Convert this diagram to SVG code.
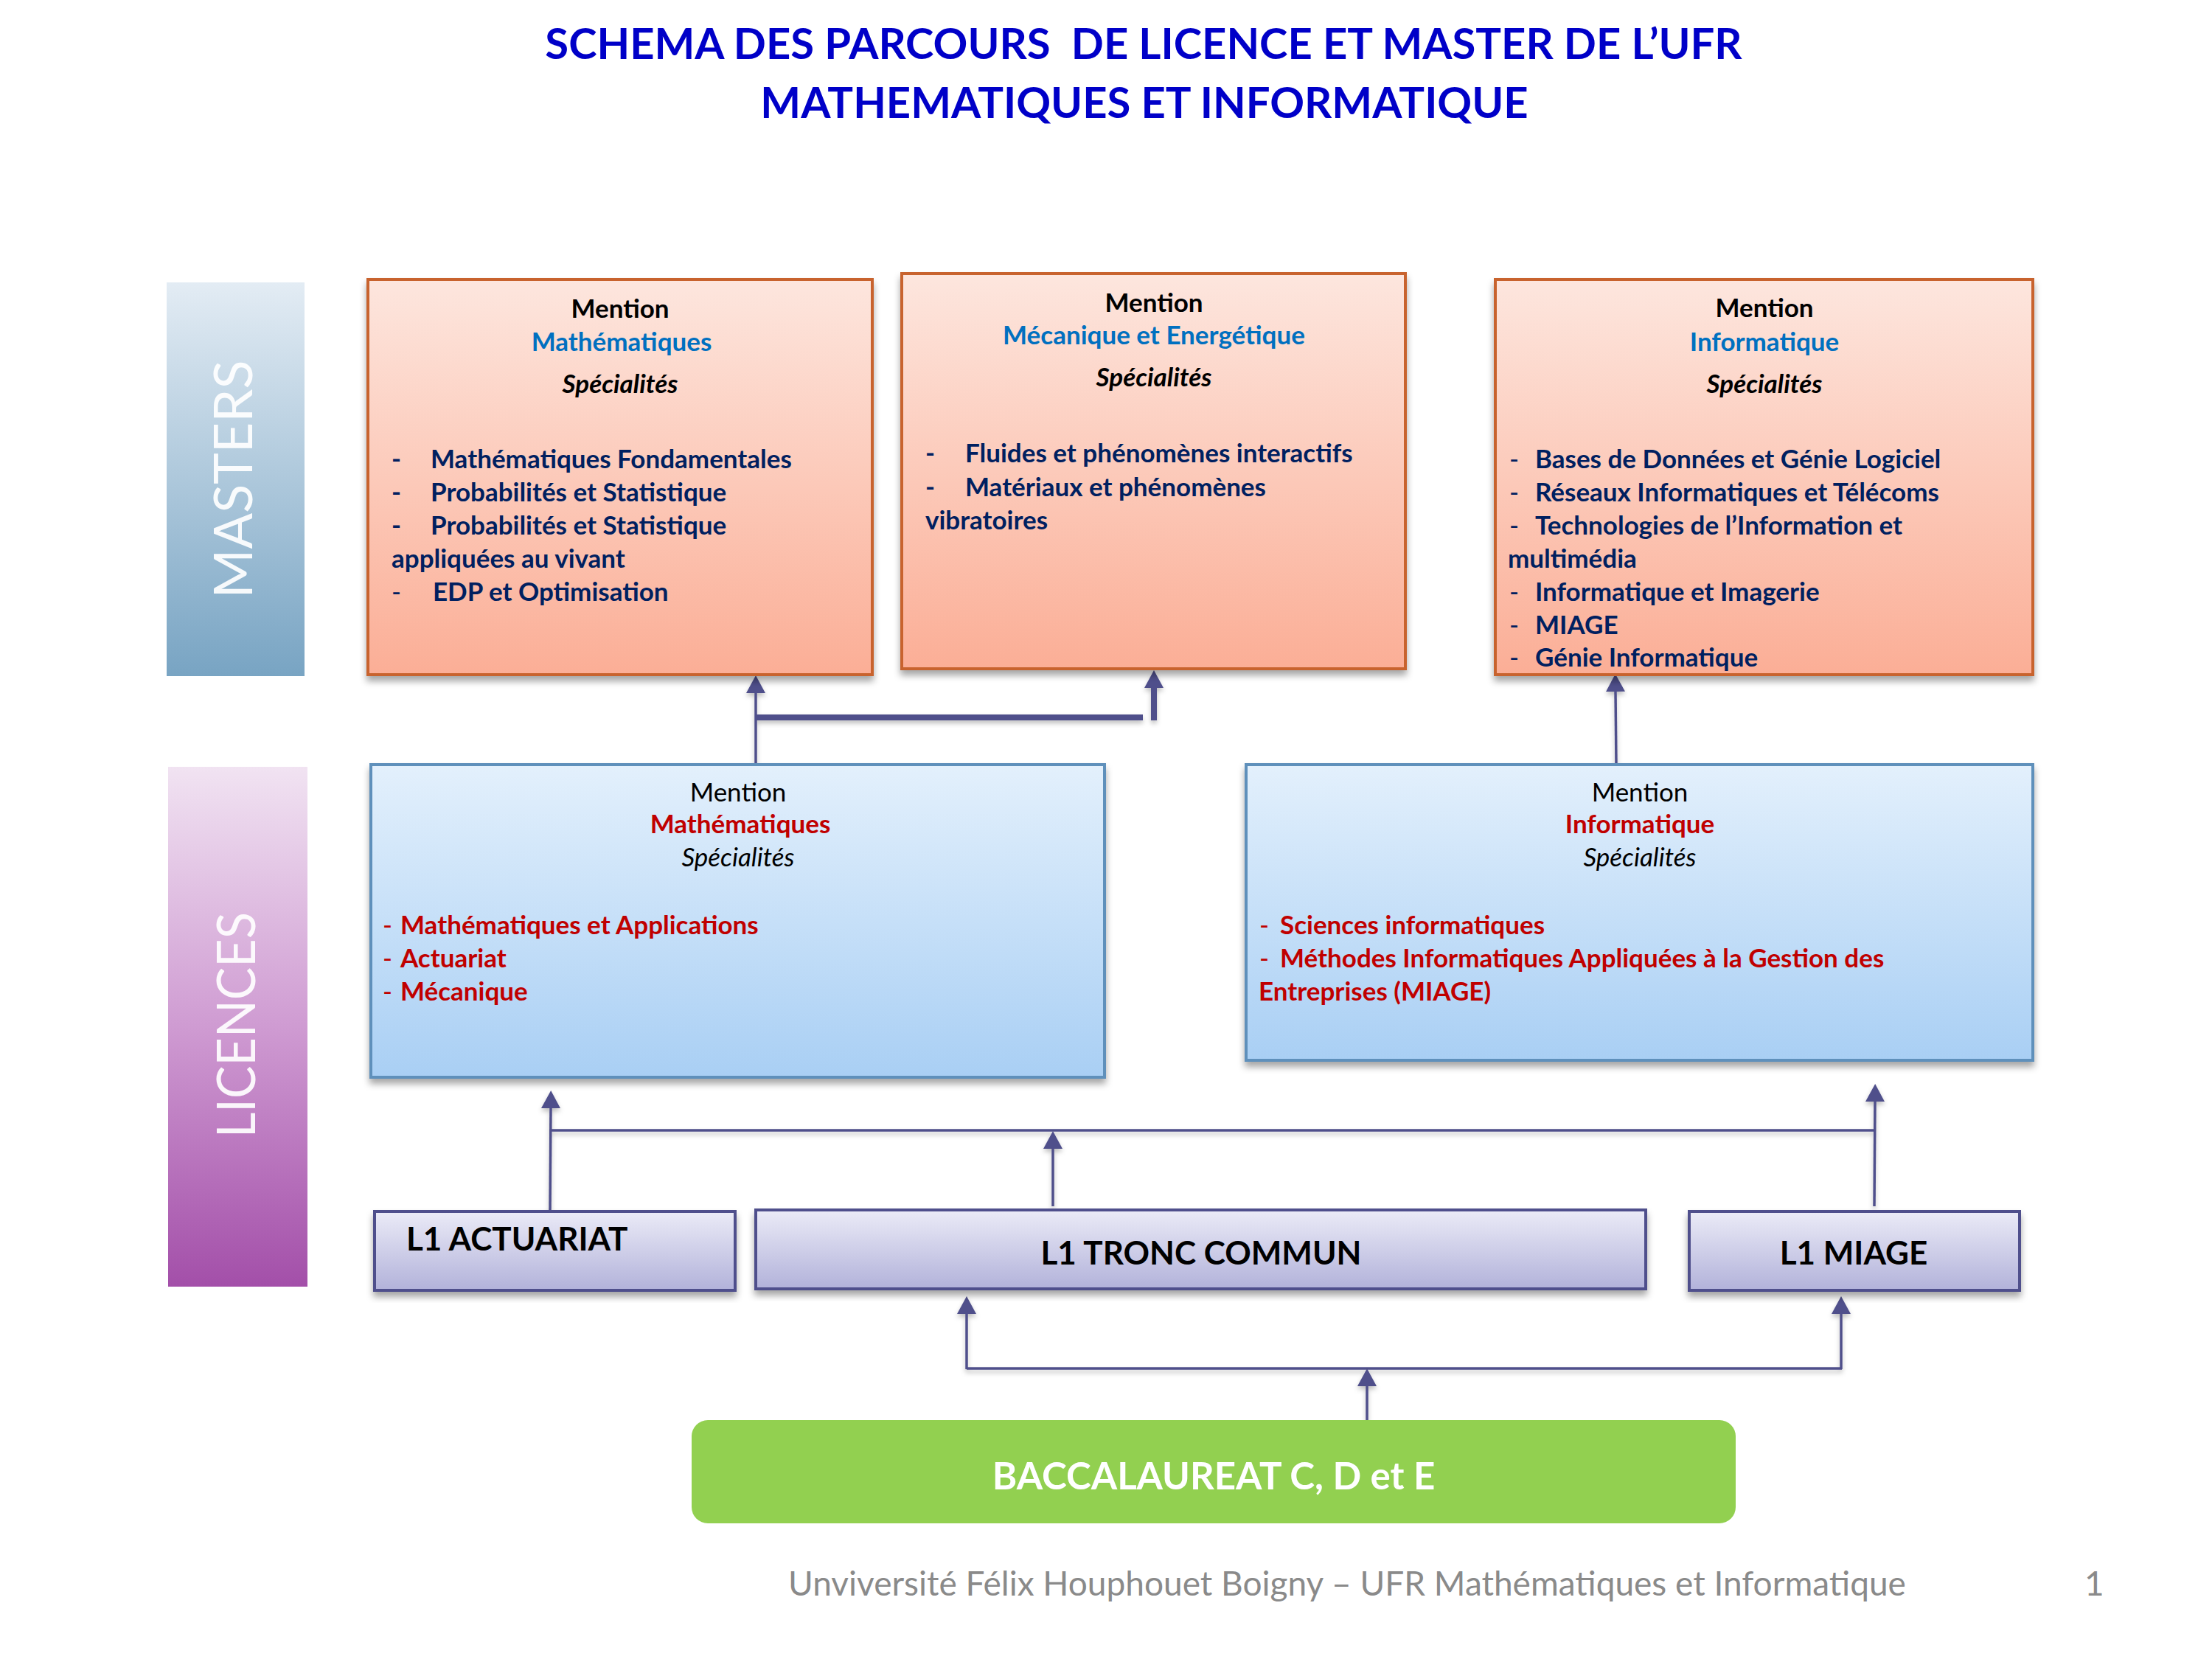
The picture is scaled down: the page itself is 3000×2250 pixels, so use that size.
<svg xmlns="http://www.w3.org/2000/svg" width="3000" height="2250" viewBox="0 0 3000 2250">
<defs>
<linearGradient id="gMaster" x1="0" y1="0" x2="0" y2="1"><stop offset="0" stop-color="#fde6de"/><stop offset="1" stop-color="#fbae96"/></linearGradient>
<linearGradient id="gLic" x1="0" y1="0" x2="0" y2="1"><stop offset="0" stop-color="#e3f0fc"/><stop offset="1" stop-color="#a9cff4"/></linearGradient>
<linearGradient id="gL1" x1="0" y1="0" x2="0" y2="1"><stop offset="0" stop-color="#ebebf7"/><stop offset="1" stop-color="#b2b2da"/></linearGradient>
<linearGradient id="gSideM" x1="0" y1="0" x2="0" y2="1"><stop offset="0" stop-color="#e3ecf4"/><stop offset="1" stop-color="#78a4c3"/></linearGradient>
<linearGradient id="gSideL" x1="0" y1="0" x2="0" y2="1"><stop offset="0" stop-color="#f1e3f2"/><stop offset="0.5" stop-color="#cf9bd2"/><stop offset="1" stop-color="#a34fa9"/></linearGradient>
<filter id="sh" x="-5%" y="-5%" width="110%" height="120%"><feDropShadow dx="0" dy="7" stdDeviation="5" flood-color="#000" flood-opacity="0.35"/></filter>
<filter id="shl" x="-5%" y="-5%" width="110%" height="120%"><feDropShadow dx="0" dy="4" stdDeviation="3" flood-color="#000" flood-opacity="0.25"/></filter>
<marker id="ah" viewBox="0 0 24 26" refX="0" refY="13" markerWidth="24" markerHeight="26" markerUnits="userSpaceOnUse" orient="auto"><path d="M0,0 L24,13 L0,26 z" fill="#4f4f8b"/></marker>
<style>
text{font-family:Lato,"Open Sans","Liberation Sans",sans-serif;}
.title{font-size:58px;font-weight:bold;fill:#0000c8;text-anchor:middle;}
.side{font-size:72px;fill:#ffffff;fill-opacity:0.92;text-anchor:middle;}
.mbox{fill:url(#gMaster);stroke:#c8632d;stroke-width:4;}
.lbox{fill:url(#gLic);stroke:#5f90bb;stroke-width:4;}
.l1box{fill:url(#gL1);stroke:#50508c;stroke-width:4;}
.hd{font-size:35px;font-weight:bold;fill:#000;text-anchor:middle;}
.hdr{font-size:35px;fill:#000;text-anchor:middle;}
.blue{font-size:35px;font-weight:bold;fill:#0070c0;text-anchor:middle;}
.red{font-size:35px;font-weight:bold;fill:#c00000;text-anchor:middle;}
.spb{font-size:35px;font-weight:bold;font-style:italic;fill:#000;text-anchor:middle;}
.sp{font-size:35px;font-style:italic;fill:#000;text-anchor:middle;}
.it{font-size:35px;font-weight:bold;fill:#002060;}
.itr{font-size:35px;font-weight:bold;fill:#c00000;}
.dash{font-weight:normal;}
.l1t{font-size:44px;font-weight:bold;fill:#000;}
.bac{font-size:51px;font-weight:bold;fill:#ffffff;text-anchor:middle;}
.foot{font-size:46px;fill:#8a8a8a;}
.cn{stroke:#4f4f8b;fill:none;stroke-width:3.5;}
.cnt{stroke:#4f4f8b;fill:none;stroke-width:8;}
</style>
</defs>
<rect width="3000" height="2250" fill="#ffffff"/>

<g id="title">
<text class="title" x="1551" y="80" xml:space="preserve">SCHEMA DES PARCOURS  DE LICENCE ET MASTER DE L’UFR</text>
<text class="title" x="1552" y="160">MATHEMATIQUES ET INFORMATIQUE</text>
</g>

<g id="side-masters">
<rect x="226" y="383" width="187" height="534" fill="url(#gSideM)"/>
<text class="side" transform="translate(342,650) rotate(-90)" x="0" y="0">MASTERS</text>
</g>
<g id="side-licences">
<rect x="228" y="1040" width="189" height="705" fill="url(#gSideL)"/>
<text class="side" transform="translate(346,1390) rotate(-90)" x="0" y="0" textLength="306" lengthAdjust="spacingAndGlyphs">LICENCES</text>
</g>

<g id="connectors">
<g filter="url(#shl)">
<line class="cn" x1="1025" y1="1036" x2="1025" y2="940" marker-end="url(#ah)"/>
<line class="cnt" x1="1025" y1="973" x2="1550" y2="973"/>
<line class="cnt" x1="1565" y1="977" x2="1565" y2="933" marker-end="url(#ah)"/>
<line class="cn" x1="2192" y1="1037" x2="2191" y2="938" marker-end="url(#ah)"/>
<line class="cn" x1="746" y1="1643" x2="747" y2="1503" marker-end="url(#ah)"/>
<line class="cn" x1="745" y1="1533" x2="2543" y2="1533"/>
<line class="cn" x1="1428" y1="1636" x2="1428" y2="1558" marker-end="url(#ah)"/>
<line class="cn" x1="2542" y1="1636" x2="2543" y2="1494" marker-end="url(#ah)"/>
<line class="cn" x1="1311" y1="1856" x2="2498" y2="1856"/>
<line class="cn" x1="1311" y1="1857" x2="1311" y2="1782" marker-end="url(#ah)"/>
<line class="cn" x1="2497" y1="1857" x2="2497" y2="1782" marker-end="url(#ah)"/>
<line class="cn" x1="1854" y1="1926" x2="1854" y2="1880" marker-end="url(#ah)"/>
</g>
</g>

<g id="master-math">
<rect class="mbox" x="499" y="379" width="684" height="536" filter="url(#sh)"/>
<text class="hd" x="841" y="431">Mention</text>
<text class="blue" x="843" y="476">Mathématiques</text>
<text class="spb" x="841" y="533">Spécialités</text>
<text class="it"><tspan x="531" y="635">-</tspan><tspan x="584" y="635">Mathématiques Fondamentales</tspan></text>
<text class="it"><tspan x="531" y="680">-</tspan><tspan x="584" y="680">Probabilités et Statistique</tspan></text>
<text class="it"><tspan x="531" y="725">-</tspan><tspan x="584" y="725">Probabilités et Statistique</tspan></text>
<text class="it" x="531" y="770">appliquées au vivant</text>
<text class="it"><tspan class="dash" x="531" y="815">-</tspan><tspan x="587" y="815">EDP et Optimisation</tspan></text>
</g>

<g id="master-meca">
<rect class="mbox" x="1223" y="371" width="683" height="536" filter="url(#sh)"/>
<text class="hd" x="1565" y="423">Mention</text>
<text class="blue" x="1565" y="467">Mécanique et Energétique</text>
<text class="spb" x="1565" y="524">Spécialités</text>
<text class="it"><tspan x="1255" y="627">-</tspan><tspan x="1309" y="627">Fluides et phénomènes interactifs</tspan></text>
<text class="it"><tspan x="1255" y="673">-</tspan><tspan x="1309" y="673">Matériaux et phénomènes</tspan></text>
<text class="it" x="1255" y="718">vibratoires</text>
</g>

<g id="master-info">
<rect class="mbox" x="2028" y="379" width="729" height="536" filter="url(#sh)"/>
<text class="hd" x="2393" y="430">Mention</text>
<text class="blue" x="2393" y="476">Informatique</text>
<text class="spb" x="2393" y="533">Spécialités</text>
<text class="it"><tspan class="dash" x="2047" y="635">-</tspan><tspan x="2082" y="635">Bases de Données et Génie Logiciel</tspan></text>
<text class="it"><tspan class="dash" x="2047" y="680">-</tspan><tspan x="2082" y="680">Réseaux Informatiques et Télécoms</tspan></text>
<text class="it"><tspan class="dash" x="2047" y="725">-</tspan><tspan x="2082" y="725">Technologies de l’Information et</tspan></text>
<text class="it" x="2045" y="770">multimédia</text>
<text class="it"><tspan class="dash" x="2047" y="815">-</tspan><tspan x="2082" y="815">Informatique et Imagerie</tspan></text>
<text class="it"><tspan class="dash" x="2047" y="860">-</tspan><tspan x="2082" y="860">MIAGE</tspan></text>
<text class="it"><tspan class="dash" x="2047" y="904">-</tspan><tspan x="2082" y="904">Génie Informatique</tspan></text>
</g>

<g id="licence-math">
<rect class="lbox" x="503" y="1037" width="995" height="424" filter="url(#sh)"/>
<text class="hdr" x="1001" y="1087">Mention</text>
<text class="red" x="1004" y="1130">Mathématiques</text>
<text class="sp" x="1001" y="1175">Spécialités</text>
<text class="itr"><tspan class="dash" x="519" y="1267">-</tspan><tspan x="543" y="1267">Mathématiques et Applications</tspan></text>
<text class="itr"><tspan class="dash" x="519" y="1312">-</tspan><tspan x="543" y="1312">Actuariat</tspan></text>
<text class="itr"><tspan class="dash" x="519" y="1357">-</tspan><tspan x="543" y="1357">Mécanique</tspan></text>
</g>

<g id="licence-info">
<rect class="lbox" x="1690" y="1037" width="1067" height="401" filter="url(#sh)"/>
<text class="hdr" x="2224" y="1087">Mention</text>
<text class="red" x="2224" y="1130">Informatique</text>
<text class="sp" x="2224" y="1175">Spécialités</text>
<text class="itr"><tspan class="dash" x="1708" y="1267">-</tspan><tspan x="1736" y="1267">Sciences informatiques</tspan></text>
<text class="itr"><tspan class="dash" x="1708" y="1312">-</tspan><tspan x="1736" y="1312">Méthodes Informatiques Appliquées à la Gestion des</tspan></text>
<text class="itr" x="1707" y="1357">Entreprises (MIAGE)</text>
</g>

<g id="l1-actuariat">
<rect class="l1box" x="508" y="1643" width="489" height="107" filter="url(#sh)"/>
<text class="l1t" x="551" y="1696">L1 ACTUARIAT</text>
</g>
<g id="l1-tronc-commun">
<rect class="l1box" x="1025" y="1641" width="1207" height="107" filter="url(#sh)"/>
<text class="l1t" x="1629" y="1715" text-anchor="middle">L1 TRONC COMMUN</text>
</g>
<g id="l1-miage">
<rect class="l1box" x="2291" y="1643" width="448" height="107" filter="url(#sh)"/>
<text class="l1t" x="2514" y="1715" text-anchor="middle">L1 MIAGE</text>
</g>

<g id="baccalaureat">
<rect x="938" y="1926" width="1416" height="140" rx="22" ry="22" fill="#92d050"/>
<text class="bac" x="1646" y="2020">BACCALAUREAT C, D et E</text>
</g>

<g id="footer">
<text class="foot" x="1069" y="2164">Unviversité Félix Houphouet Boigny – UFR Mathématiques et Informatique</text>
<text class="foot" x="2827" y="2164">1</text>
</g>
</svg>
